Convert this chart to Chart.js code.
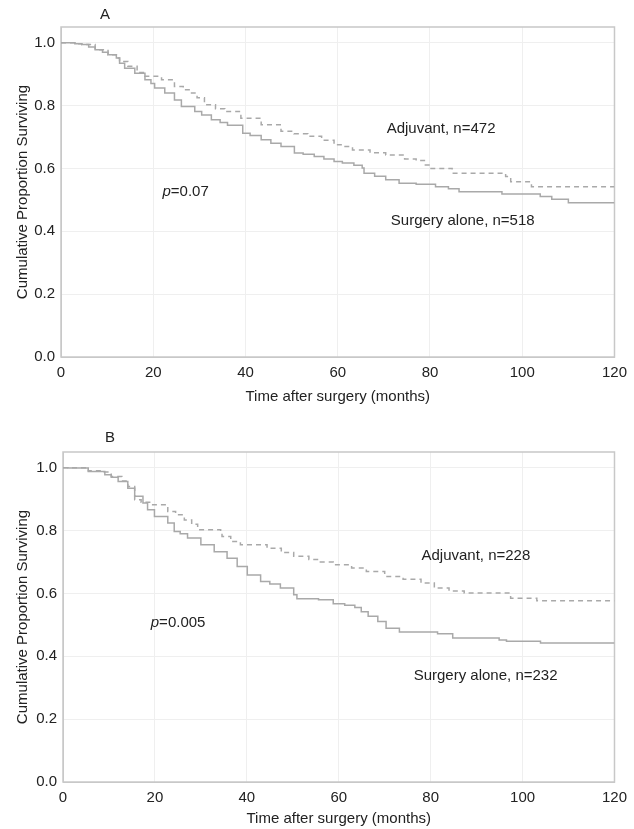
<!DOCTYPE html>
<html>
<head>
<meta charset="utf-8">
<script src="https://cdn.jsdelivr.net/npm/chart.js@4"></script>
<style>
  body { margin: 0; background: #fff; }
  #wrap { position: relative; width: 634px; height: 829px; overflow: hidden; background: #fff; }
  canvas { position: absolute; left: 0; }
</style>
</head>
<body>
<div id="wrap">
  <canvas id="chartA" width="634" height="410" style="top:0"></canvas>
  <canvas id="chartB" width="634" height="419" style="top:410px"></canvas>
</div>
<script>
// Panel A
var monthsA_surgery = [0, 3, 4.5, 6, 7.4, 9, 10.2, 12, 12.7, 13.8, 16, 18.2, 19.5, 20.3, 22.5, 24.6, 26.1, 29, 30.5, 32.6, 34.5, 36.1, 39.4, 41, 43.4, 45.5, 47.7, 50.6, 52.5, 54.9, 57, 59.2, 61, 63.5, 65.3, 65.7, 68, 70.4, 73.3, 77, 81.2, 84, 86.3, 95.6, 103.9, 106.4, 110, 120];
var survA_surgery = [1.0, 0.997, 0.994, 0.986, 0.978, 0.97, 0.962, 0.951, 0.935, 0.919, 0.903, 0.882, 0.87, 0.856, 0.840, 0.818, 0.797, 0.781, 0.77, 0.755, 0.746, 0.737, 0.712, 0.705, 0.691, 0.68, 0.670, 0.649, 0.645, 0.638, 0.63, 0.622, 0.617, 0.61, 0.601, 0.585, 0.575, 0.564, 0.553, 0.55, 0.542, 0.535, 0.526, 0.519, 0.511, 0.502, 0.491, 0.491];
var monthsA_adjuvant = [0, 3, 4.5, 7.4, 10.2, 12, 12.7, 14.5, 16.5, 18.2, 21.8, 24.6, 26.5, 28.3, 29.5, 31.1, 33.5, 35.5, 39, 43.4, 47.7, 50.5, 53.5, 56.5, 59.2, 61, 63.2, 67, 70.4, 74.5, 77, 79, 80, 84.8, 96.4, 97.5, 102, 120];
var survA_adjuvant = [1.0, 0.997, 0.994, 0.978, 0.962, 0.951, 0.94, 0.925, 0.905, 0.893, 0.882, 0.861, 0.85, 0.840, 0.825, 0.803, 0.79, 0.781, 0.760, 0.739, 0.718, 0.71, 0.702, 0.69, 0.675, 0.67, 0.659, 0.65, 0.643, 0.63, 0.625, 0.611, 0.6, 0.585, 0.574, 0.558, 0.542, 0.542];

// Panel B
var monthsB_surgery = [0, 1.1, 5.5, 9.1, 10.5, 12, 14.1, 15.6, 17.4, 18.4, 19.9, 22.8, 24.2, 25.5, 27.1, 30, 32.9, 35.7, 37.9, 40.1, 43, 45, 47.3, 50.2, 50.9, 55.6, 58.8, 61.3, 63.5, 64.9, 66.4, 68.5, 70.3, 73.2, 81.5, 84.8, 94.9, 96.5, 103.9, 120];
var survB_surgery = [1.0, 0.999, 0.988, 0.978, 0.97, 0.956, 0.935, 0.909, 0.888, 0.866, 0.845, 0.824, 0.797, 0.79, 0.776, 0.755, 0.733, 0.712, 0.686, 0.659, 0.638, 0.63, 0.617, 0.596, 0.583, 0.58, 0.567, 0.562, 0.555, 0.542, 0.527, 0.511, 0.489, 0.477, 0.472, 0.458, 0.452, 0.448, 0.442, 0.442];
var monthsB_adjuvant = [0, 5.5, 8.4, 10.5, 12.8, 14.1, 15.6, 17, 19.2, 22.8, 24.5, 26.4, 28, 29.3, 34.3, 34.6, 36.5, 38.6, 44.4, 47.5, 50.2, 53.5, 56, 58.8, 62.8, 66, 70, 74, 77.9, 80.8, 84, 87.3, 97.4, 103.1, 120];
var survB_adjuvant = [1.0, 0.99, 0.986, 0.972, 0.958, 0.94, 0.898, 0.89, 0.882, 0.861, 0.85, 0.834, 0.82, 0.803, 0.797, 0.781, 0.765, 0.755, 0.744, 0.73, 0.718, 0.708, 0.70, 0.691, 0.681, 0.67, 0.654, 0.645, 0.633, 0.617, 0.608, 0.601, 0.585, 0.577, 0.577];

var xTitle = "Time after surgery (months)";
var yTitle = "Cumulative Proportion Surviving";

var lineColor = "#a9a9a9";
var textColor = "#222";
var fontFamily = "'Liberation Sans', Arial, sans-serif";

function toPoints(xs, ys) {
    return xs.map(function (x, i) { return { x: x, y: ys[i] }; });
}

// frame round the plot area, panel letter and the text labels
var decorPlugin = {
    id: "decor",
    beforeDatasetsDraw: function (chart) {
        var a = chart.chartArea, ctx = chart.ctx;
        ctx.save();
        ctx.strokeStyle = "#c8c8c8";
        ctx.lineWidth = 1.5;
        ctx.strokeRect(a.left, a.top, a.right - a.left, a.bottom - a.top);
        ctx.restore();
    },
    afterDraw: function (chart) {
        var o = chart.options.plugins.decor;
        var ctx = chart.ctx, xs = chart.scales.x, ys = chart.scales.y;
        ctx.save();
        ctx.fillStyle = textColor;
        ctx.textBaseline = "middle";
        ctx.font = "15px " + fontFamily;
        ctx.fillText(o.letter, o.letterX, o.letterY);
        o.notes.forEach(function (n) {
            ctx.fillText(n.text, xs.getPixelForValue(n.x), ys.getPixelForValue(n.y));
        });
        // p value with italic p
        var px = xs.getPixelForValue(o.p.x), py = ys.getPixelForValue(o.p.y);
        ctx.font = "italic 15px " + fontFamily;
        ctx.fillText("p", px, py);
        var w = ctx.measureText("p").width;
        ctx.font = "15px " + fontFamily;
        ctx.fillText("=" + o.p.text, px + w, py);
        ctx.restore();
    }
};

function makeChart(id, cfg) {
    new Chart(document.getElementById(id), {
        type: "line",
        data: {
            datasets: [{
                label: "Surgery alone",
                data: toPoints(cfg.surgX, cfg.surgY),
                borderColor: lineColor,
                borderWidth: 1.5,
                pointRadius: 0,
                stepped: "before",
                fill: false
            }, {
                label: "Adjuvant",
                data: toPoints(cfg.adjX, cfg.adjY),
                borderColor: lineColor,
                borderWidth: 1.5,
                borderDash: [5, 4],
                pointRadius: 0,
                stepped: "before",
                fill: false
            }]
        },
        options: {
            responsive: false,
            animation: false,
            layout: { padding: { left: 10, top: cfg.padTop, right: cfg.padRight, bottom: 0 } },
            plugins: {
                legend: { display: false },
                tooltip: { enabled: false },
                decor: {
                    letter: cfg.letter, letterX: cfg.letterX, letterY: cfg.letterY,
                    notes: cfg.notes, p: cfg.p
                }
            },
            scales: {
                x: {
                    type: "linear",
                    min: 0, max: 120,
                    afterFit: function (s) { s.height = cfg.xHeight; },
                    ticks: {
                        stepSize: 20, padding: 7, color: textColor, maxRotation: 0,
                        font: { family: fontFamily, size: 15 }
                    },
                    grid: { color: "#efefef", drawTicks: false },
                    border: { color: "#c8c8c8" },
                    title: {
                        display: true, text: xTitle, color: textColor,
                        font: { family: fontFamily, size: 15 },
                        padding: { top: 0, bottom: cfg.xTitlePad }
                    }
                },
                y: {
                    min: 0, max: 1.05,
                    afterFit: function (s) { s.width = cfg.yWidth; },
                    ticks: {
                        stepSize: 0.2, includeBounds: false, padding: 6, color: textColor,
                        font: { family: fontFamily, size: 15 },
                        callback: function (v) { return v.toFixed(1); }
                    },
                    grid: { color: "#efefef", drawTicks: false },
                    border: { color: "#c8c8c8" },
                    title: {
                        display: true, text: yTitle, color: textColor,
                        font: { family: fontFamily, size: 15 },
                        padding: { top: 4, bottom: 0 }
                    }
                }
            }
        },
        plugins: [decorPlugin]
    });
}

makeChart("chartA", {
    surgX: monthsA_surgery, surgY: survA_surgery,
    adjX: monthsA_adjuvant, adjY: survA_adjuvant,
    padTop: 27, padRight: 18, yWidth: 51, xHeight: 53, xTitlePad: 4,
    letter: "A", letterX: 100, letterY: 15,
    notes: [{ text: "Adjuvant, n=472", x: 70.6, y: 0.725 }, { text: "Surgery alone, n=518", x: 71.5, y: 0.434 }],
    p: { text: "0.07", x: 22, y: 0.524 }
});

makeChart("chartB", {
    surgX: monthsB_surgery, surgY: survB_surgery,
    adjX: monthsB_adjuvant, adjY: survB_adjuvant,
    padTop: 42, padRight: 16, yWidth: 53, xHeight: 47, xTitlePad: 1,
    letter: "B", letterX: 105, letterY: 28,
    notes: [{ text: "Adjuvant, n=228", x: 78, y: 0.719 }, { text: "Surgery alone, n=232", x: 76.3, y: 0.337 }],
    p: { text: "0.005", x: 19.1, y: 0.507 }
});
</script>
</body>
</html>
